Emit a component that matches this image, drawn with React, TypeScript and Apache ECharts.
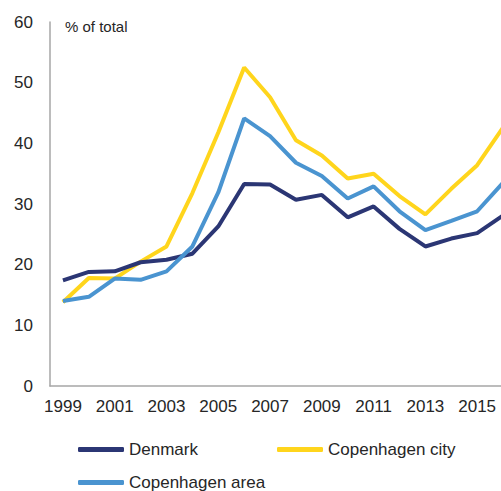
import React, { useEffect, useRef } from "react";
import * as echarts from "echarts";

const years = ["1999","2000","2001","2002","2003","2004","2005","2006","2007","2008","2009","2010","2011","2012","2013","2014","2015","2016"];
const denmark = [17.4, 18.8, 18.9, 20.4, 20.8, 21.8, 26.3, 33.3, 33.2, 30.7, 31.5, 27.8, 29.6, 25.9, 23.0, 24.3, 25.2, 28.1];
const cphCity = [13.8, 17.8, 17.7, 20.5, 23.0, 31.8, 41.8, 52.5, 47.6, 40.5, 38.0, 34.2, 35.0, 31.3, 28.3, 32.5, 36.4, 42.6];
const cphArea = [14.0, 14.7, 17.7, 17.5, 18.9, 23.0, 31.9, 44.1, 41.2, 36.8, 34.6, 30.9, 32.9, 28.8, 25.7, 27.2, 28.8, 33.5];

const FONT = "Liberation Sans, Arial, sans-serif";
const C_DK = "#2b3674";
const C_CITY = "#ffd51c";
const C_AREA = "#4a94d0";

export default function App() {
  const ref = useRef<HTMLDivElement>(null);
  useEffect(() => {
    const chart = echarts.init(ref.current!, null, { renderer: "svg" });
    const legendBase = {
      itemWidth: 46,
      itemHeight: 5,
      icon: "roundRect",
      textStyle: { fontSize: 17, color: "#262626", fontFamily: FONT },
      padding: 0,
    };
    chart.setOption({
      animation: false,
      textStyle: { fontFamily: FONT },
      title: {
        text: "% of total",
        left: 65,
        top: 19,
        padding: 0,
        textStyle: { fontSize: 15, fontWeight: "normal", color: "#262626", fontFamily: FONT },
      },
      legend: [
        { ...legendBase, data: ["Denmark"], left: 78, top: 441 },
        { ...legendBase, data: ["Copenhagen city"], left: 277, top: 441 },
        { ...legendBase, data: ["Copenhagen area"], left: 78, top: 474 },
      ],
      grid: { left: 50, top: 22, bottom: 105, right: 0, containLabel: false },
      xAxis: {
        type: "category",
        data: years,
        boundaryGap: true,
        axisLine: { lineStyle: { color: "#a6a6a6", width: 1.5 } },
        axisTick: { show: false },
        axisLabel: { interval: 1, fontSize: 17, color: "#262626", margin: 12, fontFamily: FONT },
      },
      yAxis: {
        type: "value",
        min: 0,
        max: 60,
        interval: 10,
        splitLine: { show: false },
        axisLine: { show: true, lineStyle: { color: "#a6a6a6", width: 1.5 } },
        axisTick: { show: false },
        axisLabel: { fontSize: 17, color: "#262626", margin: 17, fontFamily: FONT },
      },
      series: [
        { name: "Denmark", type: "line", data: denmark, symbol: "none", lineStyle: { color: C_DK, width: 4 }, itemStyle: { color: C_DK }, z: 3 },
        { name: "Copenhagen city", type: "line", data: cphCity, symbol: "none", lineStyle: { color: C_CITY, width: 4 }, itemStyle: { color: C_CITY }, z: 2 },
        { name: "Copenhagen area", type: "line", data: cphArea, symbol: "none", lineStyle: { color: C_AREA, width: 4 }, itemStyle: { color: C_AREA }, z: 4 },
      ],
    });
    return () => chart.dispose();
  }, []);
  return (
    <div style={{ position: "fixed", left: 0, top: 0, width: 501, height: 491, overflow: "hidden", background: "#fff" }}>
      <div ref={ref} style={{ width: 516, height: 491 }} />
    </div>
  );
}
